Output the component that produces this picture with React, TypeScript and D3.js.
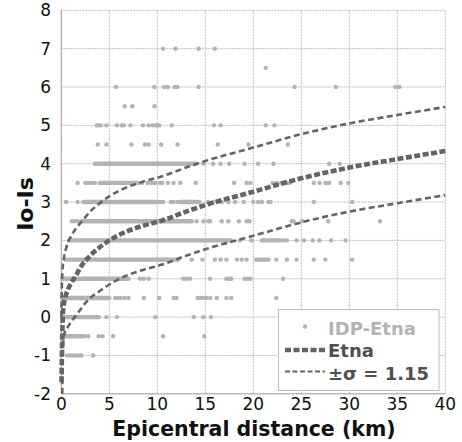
import React from 'react'
import * as d3 from 'd3'

// axis ticks
const xTicks = [0, 5, 10, 15, 20, 25, 30, 35, 40]
const yTicks = [-2, -1, 0, 1, 2, 3, 4, 5, 6, 7, 8]

// IDP-Etna observations: [Io-Is level, distances (km)]
const scatterRows: [number, number[]][] = [
  [7, [10.6, 11.9, 14.3, 16.0]],
  [6.5, [21.3]],
  [6, [5.7, 9.7, 10.7, 11.1, 11.8, 12.1, 14.3, 24.3, 28.6, 34.8, 35.2]],
  [5.5, [6.6, 7.4, 9.7]],
  [5, [3.7, 3.9, 4.1, 4.7, 5.8, 6.3, 6.5, 7.2, 8.5, 9.1, 9.5, 9.8, 10.0, 10.2, 11.5, 15.9, 16.6, 21.3, 22.2]],
  [4.5, [3.8, 4.7, 7.3, 8.7, 9.1, 10.4, 12.1, 16.3, 19.5, 23.6]],
  [4, [14.8, 15.8, 16.6, 17.5, 19.1, 20.5, 22.1, 27.9, 29.0]],
  [3.5, [1.7, 2.5, 2.8, 3.2, 3.5, 8.4, 9.0, 9.4, 9.6, 9.8, 10.3, 10.5, 11.1, 11.7, 12.4, 14.0, 18.0, 19.3, 19.7, 22.0, 22.4, 22.9, 23.5, 23.8, 26.3, 26.9, 27.5, 27.6, 27.9, 29.1, 29.9]],
  [3, [0.5, 1.7, 10.3, 10.6, 11.4, 11.7, 12.1, 14.4, 15.3, 15.8, 16.7, 17.4, 18.1, 19.0, 20.0, 20.5, 20.9, 21.6, 21.8, 26.3, 30.3]],
  [2.5, [1.1, 1.4, 1.7, 14.1, 14.8, 15.3, 15.5, 16.7, 17.4, 18.5, 19.3, 19.6, 24.0, 24.2, 25.1, 27.8, 33.2]],
  [2, [18.6, 19.8, 23.1, 23.5, 24.5, 25.3, 26.2, 26.9, 28.1, 29.6]],
  [1.5, [13.6, 14.7, 16.0, 16.6, 17.2, 18.3, 18.8, 19.3, 22.4, 23.5, 24.5, 26.3, 27.5, 30.3]],
  [1, [8.2, 8.6, 9.1, 12.7, 13.0, 13.4, 15.5, 17.2, 17.5, 17.7, 19.1, 19.4, 19.7, 23.1]],
  [0.5, [5.6, 5.9, 6.2, 6.6, 7.0, 8.6, 10.2, 11.7, 12.0, 14.2, 14.5, 14.8, 15.1, 15.5, 16.2, 17.2, 17.7, 22.4]],
  [0, [4.7, 5.8, 9.8, 13.8, 14.8, 15.6]],
  [-0.5, [2.8, 3.9, 4.3, 5.4, 10.6, 14.9]],
  [-1, [0.6, 0.9, 1.2, 1.5, 1.8, 2.1, 3.3]],
]

// stretches where the dots overlap into a solid band: [level, from km, to km]
const denseRuns: [number, number, number][] = [
  [4, 3.5, 14.0],
  [3.5, 4.0, 8.0],
  [3, 2.3, 10.0],
  [3, 12.4, 14.1],
  [2.5, 2.1, 13.6],
  [2, 0.8, 17.7],
  [2, 20.9, 22.8],
  [1.5, 0.4, 12.2],
  [1.5, 20.3, 21.6],
  [1, 0.1, 7.0],
  [0.5, 0.1, 5.0],
  [0, 0.1, 3.9],
  [-0.5, 0.1, 2.4],
]

// Etna attenuation curve and the +/- sigma curves
const etnaCurve: [number, number][] = [
  [0.02, -1.7], [0.06, -1.0], [0.12, -0.3], [0.2, 0.2], [0.4, 0.5], [0.7, 0.72], [1.0, 0.88],
  [1.5, 1.07], [2.0, 1.3], [3.0, 1.6], [4.0, 1.82], [5.0, 2.0], [6.5, 2.2], [8.5, 2.38],
  [10.5, 2.52], [13, 2.75], [15, 2.92], [20, 3.27], [25, 3.62], [30, 3.9], [35, 4.12], [40, 4.33],
]
const upperCurve: [number, number][] = [
  [0.01, 0.0], [0.05, 0.7], [0.12, 1.2], [0.25, 1.5], [0.55, 1.84], [1.0, 2.1], [1.5, 2.3],
  [2.3, 2.54], [3.0, 2.75], [4.0, 2.97], [5.0, 3.15], [6.5, 3.35], [8.5, 3.53], [10.5, 3.67],
  [13, 3.9], [15, 4.07], [20, 4.42], [25, 4.77], [30, 5.05], [35, 5.27], [40, 5.48],
]
const lowerCurve: [number, number][] = [
  [0.1, -2.0], [0.18, -0.8], [0.3, -0.45], [0.7, -0.25], [1.4, 0.0], [2.0, 0.2], [2.8, 0.45],
  [4.0, 0.68], [5.0, 0.85], [6.5, 1.05], [8.5, 1.23], [10.5, 1.37], [13, 1.6], [15, 1.77],
  [20, 2.12], [25, 2.47], [30, 2.75], [35, 2.97], [40, 3.18],
]

const W = 462
const H = 442
const plot = { left: 61.3, right: 445.3, top: 10.3, bottom: 393.8 }
const font = '"DejaVu Sans", Verdana, sans-serif'
const dotColor = '#b3b3b3'
const lineColor = '#646464'

export default function App() {
  const x = d3.scaleLinear().domain([0, 40]).range([plot.left, plot.right])
  const y = d3.scaleLinear().domain([-2, 8]).range([plot.bottom, plot.top])

  const line = d3
    .line<[number, number]>()
    .x(d => x(d[0]))
    .y(d => y(d[1]))
    .curve(d3.curveMonotoneX)

  return (
    <svg width={W} height={H} style={{ position: 'absolute', left: 0, top: 0, background: '#fff' }}>
      {/* grid */}
      <g stroke="#bdbdbd" strokeWidth={1} strokeDasharray="2,1">
        {xTicks.map(t => (
          <line key={'gx' + t} x1={x(t)} x2={x(t)} y1={plot.top} y2={plot.bottom} />
        ))}
        {yTicks.map(t => (
          <line key={'gy' + t} x1={plot.left} x2={plot.right} y1={y(t)} y2={y(t)} />
        ))}
      </g>
      <line x1={x(0)} x2={x(0)} y1={plot.top} y2={plot.bottom} stroke="#a8a8a8" />
      <line x1={plot.left} x2={plot.right} y1={y(-2)} y2={y(-2)} stroke="#a8a8a8" />

      {/* observations */}
      <g stroke={dotColor} strokeWidth={4.4} strokeLinecap="round">
        {denseRuns.map((r, i) => (
          <line key={'run' + i} x1={x(r[1])} x2={x(r[2])} y1={y(r[0])} y2={y(r[0])} />
        ))}
      </g>
      <g fill={dotColor}>
        {scatterRows.flatMap(([lvl, xs]) =>
          xs.map((d, i) => <circle key={lvl + '-' + i} cx={x(d)} cy={y(lvl)} r={2.2} />)
        )}
      </g>

      {/* curves */}
      <path d={line(upperCurve) || ''} fill="none" stroke={lineColor} strokeWidth={2.6} strokeDasharray="6,3.5" />
      <path d={line(lowerCurve) || ''} fill="none" stroke={lineColor} strokeWidth={2.6} strokeDasharray="6,3.5" />
      <path d={line(etnaCurve) || ''} fill="none" stroke={lineColor} strokeWidth={4.6} strokeDasharray="6,2.5" />

      {/* tick labels */}
      <g fontFamily={font} fontSize={17} fill="#111">
        {yTicks.map(t => (
          <text key={'yt' + t} x={51} y={y(t) + 6} textAnchor="end">
            {t}
          </text>
        ))}
        {xTicks.map(t => (
          <text key={'xt' + t} x={x(t)} y={410} textAnchor="middle">
            {t}
          </text>
        ))}
      </g>

      {/* axis titles */}
      <text x={254} y={436} textAnchor="middle" fontFamily={font} fontWeight="bold" fontSize={20.5} fill="#111">
        Epicentral distance (km)
      </text>
      <text
        transform="translate(33, 204) rotate(-90)"
        textAnchor="middle"
        fontFamily={font}
        fontWeight="bold"
        fontSize={22}
        fill="#111"
      >
        Io-Is
      </text>

      {/* legend */}
      <g fontFamily={font} fontWeight="bold" fontSize={18}>
        <rect x={278.5} y={309.5} width={160.5} height={81} fill="#fff" stroke="#bdbdbd" />
        <circle cx={305} cy={326.5} r={2.2} fill={dotColor} />
        <text x={328} y={335} fill={dotColor}>IDP-Etna</text>
        <line x1={285} x2={325} y1={350} y2={350} stroke={lineColor} strokeWidth={4.6} strokeDasharray="6,2.5" />
        <text x={328} y={357} fill="#505050">Etna</text>
        <line x1={285} x2={325} y1={371.5} y2={371.5} stroke={lineColor} strokeWidth={2.2} strokeDasharray="5,2.5" />
        <text x={328} y={380} fill="#505050">±σ = 1.15</text>
      </g>
    </svg>
  )
}
